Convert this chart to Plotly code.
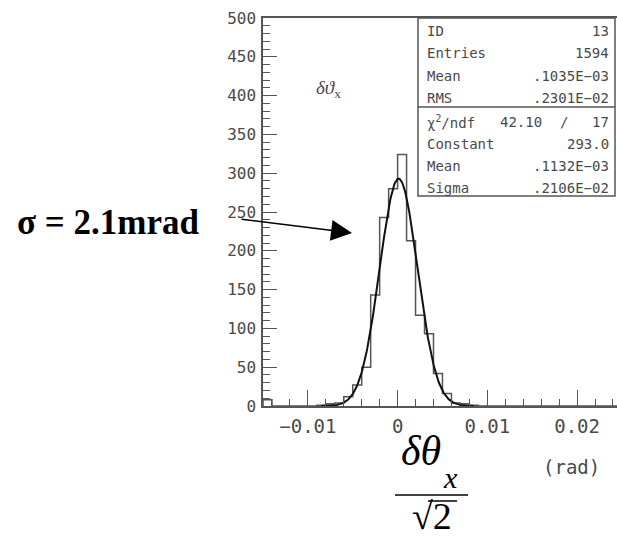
import numpy as np
import plotly.graph_objects as go

# ---------------- data ----------------
bin_start = -0.015
bin_width = 0.001
counts = [8, 0, 0, 0, 0, 0, 1, 3, 4, 12,
          27, 50, 143, 243, 280, 324, 213, 117, 93, 42,
          16, 4, 3, 1, 0, 0, 0, 0, 0, 0,
          0, 0, 0, 0, 0, 0, 0, 0, 0, 0]

# Gaussian fit parameters (from stats box)
fit_constant = 293.0
fit_mean = 0.1132e-03
fit_sigma = 0.2106e-02
fit_range = [-0.0085, 0.0085]

stats_top = [("ID", "13"), ("Entries", "1594"), ("Mean", ".1035E\u221203"), ("RMS", ".2301E\u221202")]
stats_fit = [("Constant", "293.0"), ("Mean", ".1132E\u221203"), ("Sigma", ".2106E\u221202")]
chi2_value, ndf_value = "42.10", "17"

x_range = [-0.015, 0.02445]
y_range = [0, 500]

# ---------------- layout geometry ----------------
W, H = 617, 537
L, R, T, B = 263, 0, 18, 131
PW, PH = W - L - R, H - T - B


def px(x):
    return (x - L) / PW


def py(y):
    return (H - B - y) / PH


GRAY = "#4a4a4a"
MONO = "DejaVu Sans Mono"
SERIF = "Liberation Serif, Times New Roman, serif"

edges = bin_start + bin_width * np.arange(len(counts) + 1)
hx = np.concatenate([[edges[0]], edges])
hy = np.concatenate([[0], counts, [counts[-1]]])

xf = np.linspace(fit_range[0], fit_range[1], 300)
yf = fit_constant * np.exp(-0.5 * ((xf - fit_mean) / fit_sigma) ** 2)

fig = go.Figure()
fig.add_trace(go.Scatter(x=hx, y=hy, mode="lines", line=dict(shape="hv", color="#555555", width=1.5),
                         hoverinfo="skip"))
fig.add_trace(go.Scatter(x=xf, y=yf, mode="lines", line=dict(color="#111111", width=2),
                         hoverinfo="skip"))

fig.update_layout(
    width=W, height=H, margin=dict(l=L, r=R, t=T, b=B),
    paper_bgcolor="white", plot_bgcolor="white", showlegend=False,
)
fig.update_xaxes(
    range=x_range, showgrid=False, zeroline=False,
    showline=True, linecolor="#555555", linewidth=1.5, mirror=True,
    ticks="inside", ticklen=16, tickwidth=1.3, tickcolor="#555555",
    tick0=0, dtick=0.01,
    minor=dict(ticks="inside", dtick=0.002, tick0=0, ticklen=7, tickwidth=1.2, tickcolor="#555555"),
    tickfont=dict(family=MONO, size=19, color=GRAY), ticklabelstandoff=2,
)
fig.update_yaxes(
    range=y_range, showgrid=False, zeroline=False,
    showline=True, linecolor="#555555", linewidth=1.5,
    ticks="inside", ticklen=14, tickwidth=1.3, tickcolor="#555555",
    tick0=0, dtick=50,
    minor=dict(ticks="inside", dtick=10, ticklen=7, tickwidth=1.2, tickcolor="#555555"),
    tickfont=dict(family=MONO, size=16, color=GRAY), ticklabelstandoff=2,
)

shapes = []
# stats box
bx0, bx1, by0, bdiv, by1 = 418, 615, 18, 107, 196
shapes.append(dict(type="rect", xref="paper", yref="paper", x0=px(bx0), x1=px(bx1), y0=py(by1), y1=py(by0),
                   line=dict(color="#555555", width=1.5), fillcolor="white", layer="above"))
shapes.append(dict(type="line", xref="paper", yref="paper", x0=px(bx0), x1=px(bx1), y0=py(bdiv), y1=py(bdiv),
                   line=dict(color="#555555", width=1.5)))
# fraction bar and sqrt overline
shapes.append(dict(type="line", xref="paper", yref="paper", x0=px(395), x1=px(468), y0=py(495), y1=py(495),
                   line=dict(color="black", width=1.5)))
shapes.append(dict(type="line", xref="paper", yref="paper", x0=px(428), x1=px(457), y0=py(501), y1=py(501),
                   line=dict(color="black", width=1.5)))
fig.update_layout(shapes=shapes)

ann = []
sfont = dict(family=MONO, size=14, color=GRAY)
rows_top = [31, 53, 76, 98]
rows_fit = [144, 166, 188]
for (lab, val), yy in zip(stats_top, rows_top):
    ann.append(dict(text=lab, x=px(425), y=py(yy), xanchor="left", yanchor="middle", font=sfont))
    ann.append(dict(text=val, x=px(611), y=py(yy), xanchor="right", yanchor="middle", font=sfont))
ann.append(dict(text="\u03c7<sup>2</sup>/ndf", x=px(425), y=py(122), xanchor="left", yanchor="middle", font=sfont))
ann.append(dict(text=chi2_value, x=px(544), y=py(122), xanchor="right", yanchor="middle", font=sfont))
ann.append(dict(text="/", x=px(564), y=py(122), xanchor="center", yanchor="middle", font=sfont))
ann.append(dict(text=ndf_value, x=px(611), y=py(122), xanchor="right", yanchor="middle", font=sfont))
for (lab, val), yy in zip(stats_fit, rows_fit):
    ann.append(dict(text=lab, x=px(425), y=py(yy), xanchor="left", yanchor="middle", font=sfont))
    ann.append(dict(text=val, x=px(611), y=py(yy), xanchor="right", yanchor="middle", font=sfont))

# histogram title
ann.append(dict(text="<i>\u03b4\u03d1</i><sub>x</sub>", x=px(328), y=py(89), xanchor="center", yanchor="middle",
                font=dict(family=SERIF, size=19, color=GRAY)))
# unit
ann.append(dict(text="(rad)", x=px(571), y=py(467), xanchor="center", yanchor="middle",
                font=dict(family=MONO, size=19, color=GRAY)))
# big axis title: numerator
ann.append(dict(text="<i>\u03b4\u03b8</i>", x=px(421), y=py(451), xanchor="center", yanchor="middle",
                font=dict(family=SERIF, size=42, color="black")))
ann.append(dict(text="<i>x</i>", x=px(450), y=py(477), xanchor="center", yanchor="middle",
                font=dict(family=SERIF, size=30, color="black")))
# denominator
ann.append(dict(text="\u221a2", x=px(432), y=py(516), xanchor="center", yanchor="middle",
                font=dict(family=SERIF, size=38, color="black")))
# sigma label
ann.append(dict(text="<b>\u03c3 = 2.1mrad</b>", x=px(108), y=py(222), xanchor="center", yanchor="middle",
                font=dict(family=SERIF, size=35, color="black")))
# arrow
ann.append(dict(text="", x=-0.00508, y=223, xref="x", yref="y", showarrow=True, ax=-112, ay=-14,
                arrowhead=2, arrowsize=2.8, arrowwidth=1.5, arrowcolor="black"))

for a in ann:
    a.setdefault("xref", "paper")
    a.setdefault("yref", "paper")
    a.setdefault("showarrow", False)
fig.update_layout(annotations=ann)

fig.write_html("out.html")
